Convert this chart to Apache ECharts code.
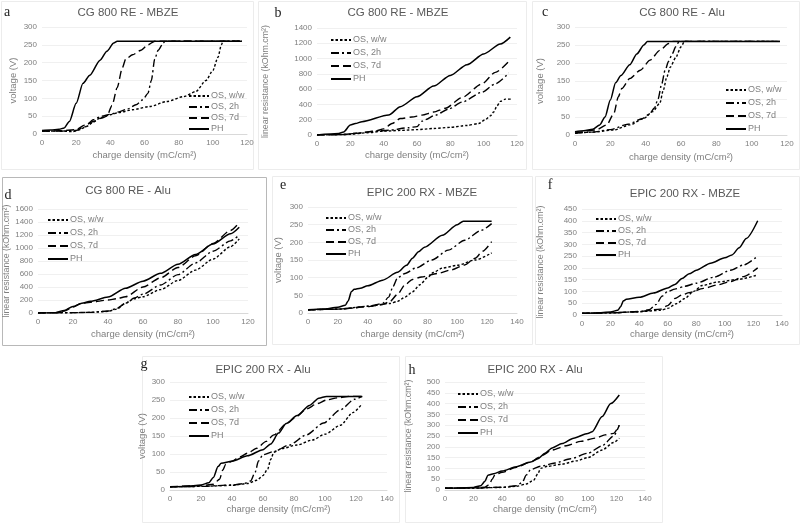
<!DOCTYPE html>
<html><head><meta charset="utf-8">
<script src="https://cdn.jsdelivr.net/npm/echarts@6/dist/echarts.min.js"></script>
<style>html,body{margin:0;padding:0;background:#fff}#c{width:800px;height:523px}</style>
</head><body><div id="c"></div>
<script>
// ---- series names ----
const seriesNames = ['OS, w/w', 'OS, 2h', 'OS, 7d', 'PH'];
const panelTitles = ['CG 800 RE - MBZE','CG 800 RE - MBZE','CG 800 RE - Alu','CG 800 RE - Alu','EPIC 200 RX - MBZE','EPIC 200 RX - MBZE','EPIC 200 RX - Alu','EPIC 200 RX - Alu'];
const panelLetters = ['a','b','c','d','e','f','g','h'];
const xName = 'charge density (mC/cm²)';
const yNameV = 'voltage (V)';
const yNameR = 'linear resistance (kOhm.cm²)';

// ---- panel a : CG 800 RE - MBZE voltage ----
const aWW = [[0,8],[10,8],[18,7],[22,12],[26,21],[30,33],[34,45],[40,54],[45,60],[53,68],[63,77],[73,91],[83,105],[90,119],[96,150],[100,178],[103,215],[105,250],[106,260],[117,260]];
const a2h = [[0,8],[10,8],[20,10],[25,20],[30,40],[35,50],[40,55],[45,62],[50,70],[55,82],[59,96],[62,114],[64,150],[66,210],[68,235],[71,255],[72,260],[117,260]];
const a7d = [[0,8],[10,9],[20,12],[25,25],[30,35],[35,45],[38,50],[41,80],[44,130],[47,185],[49,210],[53,222],[58,235],[62,250],[66,260],[117,260]];
const aPH = [[0,10],[5,11],[10,13],[13,17],[16,35],[20,86],[24,142],[28,165],[34,207],[38,232],[42,255],[44,260],[117,260]];

// ---- panel b : CG 800 RE - MBZE linear resistance ----
const bWW = [[0,0],[15,5],[20,10],[30,30],[40,50],[50,60],[60,70],[70,85],[80,100],[90,125],[97,150],[101,200],[104,250],[106,300],[108,380],[110,440],[113,470],[117,470]];
const b2h = [[0,0],[15,5],[25,25],[32,44],[43,62],[55,95],[60,110],[63,180],[65,200],[71,260],[79,340],[87,430],[99,560],[107,670],[115,810]];
const b7d = [[0,0],[15,5],[25,25],[35,50],[40,80],[45,150],[50,215],[57,235],[63,260],[70,300],[77,350],[87,490],[99,670],[107,820],[115,960]];
const bPH = [[0,0],[13,20],[16,40],[20,130],[23,150],[27,175],[43,262],[50,370],[60,500],[70,640],[80,780],[90,920],[100,1060],[110,1190],[116,1280]];

// ---- panel c : CG 800 RE - Alu voltage ----
const cWW = [[0,5],[10,8],[22,14],[31,28],[39,46],[44,65],[48,88],[50,125],[52,162],[54,189],[57,215],[60,245],[62,260],[116,260]];
const c2h = [[0,5],[10,8],[20,15],[30,30],[38,45],[42,58],[45,75],[47,100],[49,140],[51,180],[53,205],[55,225],[57,245],[59,260],[116,260]];
const c7d = [[0,5],[12,14],[18,28],[22,60],[24.5,106],[26.5,129],[31,157],[37,180],[42.5,208],[48,235],[53,254],[55,260],[116,260]];
const cPH = [[0,9],[5,12],[10,16],[14,28],[17,50],[20,97],[23,145],[26,165],[31,195],[35,225],[39,250],[41,260],[116,260]];

// ---- panel d : CG 800 RE - Alu linear resistance ----
const dWW = [[0,0],[20,5],[30,10],[40,25],[45,60],[50,150],[55,220],[60,250],[70,360],[80,500],[90,660],[100,830],[110,1020],[115,1140]];
const d2h = [[0,0],[20,5],[30,10],[40,30],[45,70],[50,150],[55,230],[60,290],[70,430],[80,590],[90,770],[100,950],[110,1110],[115,1200]];
const d7d = [[0,0],[10,5],[15,30],[20,90],[25,150],[30,165],[40,200],[45,220],[50,250],[60,400],[70,540],[80,700],[90,880],[100,1070],[110,1270],[115,1390]];
const dPH = [[0,0],[10,5],[15,40],[20,100],[25,150],[30,180],[40,245],[50,380],[60,490],[70,610],[80,750],[90,900],[100,1060],[110,1220],[115,1320]];

// ---- panel e : EPIC 200 RX - MBZE voltage ----
const eWW = [[0,9],[20,11],[40,19],[55,27],[60,33],[65,45],[70,60],[75,80],[80,100],[84,115],[90,127],[100,135],[112,150],[123,170]];
const e2h = [[0,9],[20,11],[30,14],[40,19],[50,27],[54,45],[57,75],[60,100],[65,112],[72,127],[83,150],[94,178],[105,206],[116,234],[123,253]];
const e7d = [[0,9],[20,11],[40,18],[50,24],[55,33],[60,53],[65,80],[70,95],[76,102],[87,112],[96,122],[105,136],[112,155],[117,175],[123,202]];
const ePH = [[0,9],[10,11],[20,16],[25,22],[27,35],[29,60],[31,67],[35,70],[40,77],[50,93],[60,115],[66,135],[70,155],[74,173],[78,186],[90,220],[100,250],[104,260],[123,260]];

// ---- panel f : EPIC 200 RX - MBZE linear resistance ----
const fWW = [[0,7],[20,9],[40,14],[55,20],[60,28],[66,48],[72,70],[78,100],[84,125],[95,140],[108,150],[123,170]];
const f2h = [[0,7],[20,9],[40,14],[47,22],[52,45],[56,80],[60,100],[65,110],[72,122],[80,135],[92,160],[104,190],[113,212],[123,250]];
const f7d = [[0,7],[20,9],[40,15],[55,25],[60,40],[65,70],[70,85],[75,95],[85,113],[95,128],[104,142],[113,163],[123,200]];
const fPH = [[0,7],[10,9],[20,13],[25,20],[27,35],[29,60],[31,67],[40,75],[50,93],[60,115],[65,130],[70,155],[75,175],[80,190],[90,220],[100,243],[105,255],[110,285],[115,325],[123,400]];

// ---- panel g : EPIC 200 RX - Alu voltage ----
const gWW = [[0,9],[20,10],[40,13],[50,18],[56,27],[60,40],[63,58],[65,85],[67,105],[72,115],[82,125],[92,139],[100,155],[110,180],[118,215],[124,240]];
const g2h = [[0,9],[20,10],[40,14],[48,18],[52,25],[55,50],[57,80],[60,98],[67,107],[77,125],[88,153],[99,186],[110,223],[119,252],[124,260]];
const g7d = [[0,9],[20,12],[28,16],[32,30],[34,55],[36,72],[40,80],[45,92],[50,102],[56,116],[62,135],[67,153],[75,184],[82,205],[88,225],[95,240],[101,250],[108,256],[116,260],[124,260]];
const gPH = [[0,9],[10,10],[20,14],[25,20],[28,35],[31,65],[33,74],[40,80],[50,95],[60,112],[65,128],[70,158],[75,185],[82,207],[90,235],[96,255],[101,260],[124,260]];

// ---- panel h : EPIC 200 RX - Alu linear resistance ----
const hWW = [[0,8],[20,9],[40,12],[50,17],[57,28],[62,45],[65,75],[67,100],[72,110],[82,120],[92,135],[100,150],[110,185],[118,220],[122,240]];
const h2h = [[0,8],[20,9],[40,13],[50,20],[54,35],[57,70],[60,95],[67,110],[77,125],[88,145],[100,170],[110,205],[118,250],[122,300]];
const h7d = [[0,8],[20,10],[28,13],[31,25],[33,50],[35,70],[40,82],[50,105],[60,130],[68,160],[75,185],[85,205],[95,225],[105,240],[112,255],[118,262],[122,300]];
const hPH = [[0,8],[10,9],[20,12],[25,20],[28,40],[30,68],[34,75],[40,88],[50,108],[60,130],[65,145],[70,170],[75,195],[82,215],[90,240],[100,262],[103,270],[110,340],[116,400],[122,440]];

// axis ranges
const xMax = [120,120,120,120,140,140,140,140];
const yMax = [300,1400,300,1600,300,450,300,500];
const yStep = [50,200,50,200,50,50,50,50];

const panelData = [
  [aWW,a2h,a7d,aPH],[bWW,b2h,b7d,bPH],[cWW,c2h,c7d,cPH],[dWW,d2h,d7d,dPH],
  [eWW,e2h,e7d,ePH],[fWW,f2h,f7d,fPH],[gWW,g2h,g7d,gPH],[hWW,h2h,h7d,hPH]
];

// ---- layout (pixels) ----
const grids = [
  {left:42, top:27, width:205, height:107},
  {left:317,top:28, width:200, height:107},
  {left:575,top:27, width:212, height:108},
  {left:38, top:209,width:210, height:104},
  {left:308,top:207,width:209, height:106},
  {left:582,top:209,width:200, height:106},
  {left:170,top:382,width:217, height:108},
  {left:445,top:382,width:200, height:108}
];
const yGaps = [24,47,30,25,25,37,21,32];
const xGaps = [16,15,17,16,16,13,13,13];
const titlePos = [[128,13],[398,13],[682,13],[128,191],[422,193],[685,194],[263,370],[535,370]];
const letterPos = [[7,12],[278,13],[545,12],[8,195],[283,185],[550,185],[144,364],[412,370]];
const legendPos = [[188,91,1],[330,35,3],[725,85,3],[47,215,3],[325,213,2],[595,214,2],[188,392,3],[457,389,3]];
const boxes = [[1,1,252,168],[258,1,268,168],[532,1,267,168],[2,177,264,168],[272,176,260,168],[535,176,264,168],[142,356,257,166],[405,356,257,166]];

const styleMap = {
  'OS, w/w': {type:[2.5,2], width:1.4},
  'OS, 2h': {type:[8,3,2,3], width:1.4},
  'OS, 7d': {type:[8,4], width:1.4},
  'PH': {type:'solid', width:1.5}
};
const grey = '#7f7f7f';

const xAxis = [], yAxis = [], series = [], legend = [], graphic = [];
grids.forEach((g, i) => {
  xAxis.push({
    gridIndex:i, type:'value', min:0, max:xMax[i], interval:20,
    name:xName, nameLocation:'middle', nameGap:xGaps[i],
    nameTextStyle:{color:grey, fontSize:9.5, fontFamily:'Liberation Sans'},
    axisLine:{show:true, lineStyle:{color:'#d9d9d9'}}, axisTick:{show:false},
    axisLabel:{color:grey, fontSize:8, margin:5, fontFamily:'Liberation Sans', formatter: v => String(v)},
    splitLine:{show:false}
  });
  yAxis.push({
    gridIndex:i, type:'value', min:0, max:yMax[i], interval:yStep[i],
    name:(i%2===0 ? yNameV : yNameR), nameLocation:'middle', nameGap:yGaps[i], nameRotate:90,
    nameTextStyle:{color:grey, fontSize:(i%2===0 ? 9.5 : 8.8), fontFamily:'Liberation Sans'},
    axisLine:{show:false}, axisTick:{show:false},
    axisLabel:{color:grey, fontSize:8, margin:5, fontFamily:'Liberation Sans', formatter: v => String(v)},
    splitLine:{show:true, lineStyle:{color:'#f0f0f0', width:1}}
  });
  seriesNames.forEach((nm, k) => {
    series.push({
      name:nm, type:'line', xAxisIndex:i, yAxisIndex:i, data:panelData[i][k],
      showSymbol:false, symbol:'none', smooth:0.25, smoothMonotone:'x',
      lineStyle:{color:'#000', type:styleMap[nm].type, width:styleMap[nm].width},
      itemStyle:{color:'#000'}, z: 10 - k, silent:true, animation:false
    });
  });
  const lp = legendPos[i];
  legend.push({
    left:lp[0], top:lp[1], orient:'vertical', padding:0, itemGap:lp[2],
    itemWidth:20, itemHeight:10, data:seriesNames, selectedMode:false,
    itemStyle:{opacity:0, borderWidth:0},
    textStyle:{color:grey, fontSize:9, lineHeight:10, fontFamily:'Liberation Sans', padding:[0,0,0,-3]}
  });
  const b = boxes[i];
  graphic.push({type:'rect', shape:{x:b[0]+0.5, y:b[1]+0.5, width:b[2], height:b[3]}, silent:true,
    style:{fill:'none', stroke:(i===3?'#b8b8b8':'#ececec'), lineWidth:1}, z:-10});
  graphic.push({type:'text', x:titlePos[i][0], y:titlePos[i][1], silent:true,
    style:{text:panelTitles[i], fill:'#595959', font:'11.5px "Liberation Sans"', align:'center', verticalAlign:'middle'}});
  graphic.push({type:'text', x:letterPos[i][0], y:letterPos[i][1], silent:true,
    style:{text:panelLetters[i], fill:'#222', font:'14px "Liberation Serif"', align:'center', verticalAlign:'middle'}});
});

const chart = echarts.init(document.getElementById('c'), null, {renderer:'canvas'});
chart.setOption({
  animation:false, backgroundColor:'#fff',
  grid: grids.map(g => Object.assign({containLabel:false}, g)),
  xAxis, yAxis, series, legend, graphic
});
</script></body></html>
